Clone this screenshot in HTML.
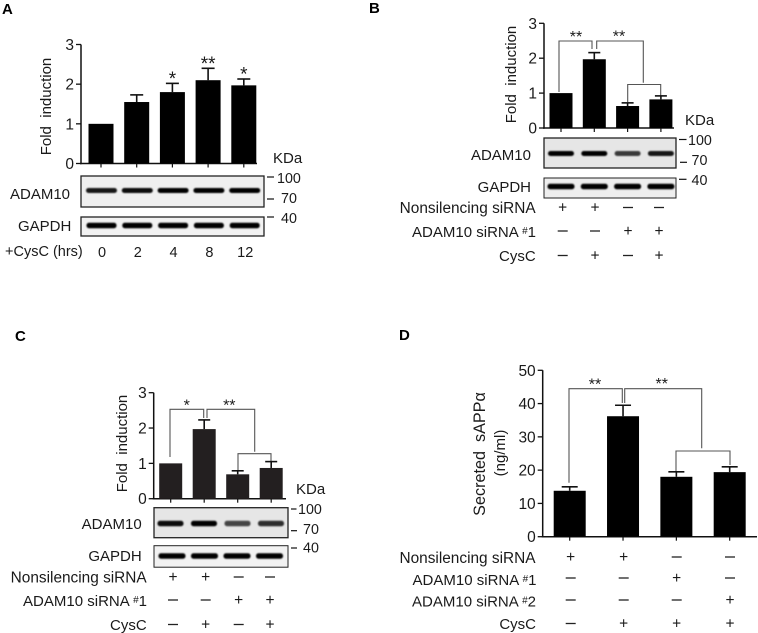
<!DOCTYPE html>
<html lang="en">
<head>
<meta charset="utf-8">
<title>ADAM10 and sAPP alpha induction by CysC</title>
<style>
html,body{margin:0;padding:0;background:#fff;}
body{width:758px;height:633px;overflow:hidden;}
svg{display:block;filter:blur(0.3px);}
text{font-family:"Liberation Sans",sans-serif;fill:#1a1a1a;white-space:pre;}
.panel-letter{font-weight:bold;font-size:15px;fill:#000;}
.bk{fill:none;stroke:#555;stroke-width:1.1;}
</style>
</head>
<body>
<svg id="figure" xmlns="http://www.w3.org/2000/svg" width="758" height="633" viewBox="0 0 758 633">
  <defs>
    <filter id="blur-band" x="-20%" y="-100%" width="140%" height="300%"><feGaussianBlur stdDeviation="0.9"/></filter>
  </defs>
  <text class="panel-letter" x="2" y="14">A</text>
  <text class="panel-letter" x="369" y="13">B</text>
  <text class="panel-letter" x="15" y="341">C</text>
  <text class="panel-letter" x="399" y="340">D</text>

  <path class="bk" d="M559 92V41H592V49"/>
  <path class="bk" d="M596.7 49V41H643.3V82.7"/>
  <path class="bk" d="M627.7 102V84.5H660.7V96"/>
  <path class="bk" d="M170 457V409.3H203.7V418"/>
  <path class="bk" d="M207 418V409.3H254.7V451.7"/>
  <path class="bk" d="M238 470V453.7H271V461.7"/>
  <path class="bk" d="M569 482.7V388.7H622.3V403"/>
  <path class="bk" d="M624.7 403V388.7H701.7V448.3"/>
  <path class="bk" d="M676 471.7V451H730V465"/>
</svg>
<script>
// Chart data
var aValues = [1, 1.55, 1.8, 2.1, 1.97];
var aErrors = [0, 0.18, 0.22, 0.3, 0.16];
var aTicks = [0, 1, 2, 3];
var aTimes = ['0', '2', '4', '8', '12'];
var aStars = ['', '', '*', '**', '*'];
var aAdamBands = [0.9, 0.95, 1, 1, 1];
var aGapdhBands = [1, 1, 1, 1, 1];

var bValues = [1, 1.97, 0.63, 0.82];
var bErrors = [0, 0.19, 0.09, 0.1];
var bTicks = [0, 1, 2, 3];
var bAdamBands = [1, 1, 0.75, 0.9];
var bGapdhBands = [1, 1, 1, 1];

var cValues = [1, 1.97, 0.69, 0.87];
var cErrors = [0, 0.26, 0.1, 0.18];
var cTicks = [0, 1, 2, 3];
var cAdamBands = [0.95, 1, 0.7, 0.8];
var cGapdhBands = [1, 1, 1, 1];

var dValues = [13.8, 36.2, 18, 19.4];
var dErrors = [1.2, 3.3, 1.5, 1.6];
var dTicks = [0, 10, 20, 30, 40, 50];

var nonsilencingSigns = ['+', '+', '-', '-'];
var sirna1Signs = ['-', '-', '+', '+'];
var cysCSigns = ['-', '+', '-', '+'];
var dNonsilencingSigns = ['+', '+', '-', '-'];
var dSirna1Signs = ['-', '-', '+', '-'];
var dSirna2Signs = ['-', '-', '-', '+'];
var dCysCSigns = ['-', '+', '+', '+'];

var NS = 'http://www.w3.org/2000/svg';
var svg = document.getElementById('figure');

function make(tag, attrs, content) {
  var el = document.createElementNS(NS, tag);
  for (var k in attrs) el.setAttribute(k, attrs[k]);
  if (content !== undefined) el.textContent = content;
  svg.appendChild(el);
  return el;
}
function label(txt, x, y, size, anchor, name) {
  var el = make('text', {x: x, y: y, 'font-size': size, 'text-anchor': anchor || 'start'}, txt);
  
  
  return el;
}
function sirnaLabel(num, x, y, name) {
  var el = make('text', {x: x, y: y, 'font-size': 15, 'text-anchor': 'end'}, 'ADAM10 siRNA ');
  var hash = document.createElementNS(NS, 'tspan');
  hash.setAttribute('font-size', '10');
  hash.setAttribute('dy', '-3');
  hash.textContent = '#';
  el.appendChild(hash);
  var digit = document.createElementNS(NS, 'tspan');
  digit.setAttribute('dy', '3');
  digit.textContent = num;
  el.appendChild(digit);
  
  
  return el;
}
function vLabel(txt, cx, cy, size, name) {
  var el = make('text', {x: 0, y: 0, 'font-size': size, 'text-anchor': 'middle', transform: 'translate(' + cx + ' ' + cy + ') rotate(-90)'}, txt);
  
  
  return el;
}
function seg(x1, y1, x2, y2, w, name, color) {
  var el = make('line', {x1: x1, y1: y1, x2: x2, y2: y2, stroke: color || '#111', 'stroke-width': w});
  
  
  return el;
}

function drawChart(o) {
  var yMax = o.ticks[o.ticks.length - 1];
  function y(v) { return o.y0 - (v / yMax) * (o.y0 - o.yTop); }
  function x(i) { return o.x0 + o.laneStep * i; }
  seg(o.axisX, o.yTop, o.axisX, o.y0 + 0.7, 1.5, o.id + '-y-axis');
  seg(o.axisX - 1, o.y0, o.axisEnd, o.y0, 1.5, o.id + '-x-axis');
  o.ticks.forEach(function (t) {
    seg(o.axisX - 5, y(t), o.axisX, y(t), 1.3, o.id + '-y-tick');
    label(String(t), o.axisX - 7, y(t) + 5.5, 15.5, 'end', o.id + '-y-tick-label');
  });
  o.values.forEach(function (v, i) {
    seg(x(i), o.y0, x(i), o.y0 + 4, 1.2, o.id + '-x-tick');
    if (o.errors[i] > 0) {
      seg(x(i), y(v), x(i), y(v + o.errors[i]), 1.6, o.id + '-error-stem');
      seg(x(i) - o.cap, y(v + o.errors[i]), x(i) + o.cap, y(v + o.errors[i]), 1.6, o.id + '-error-cap');
    }
    var bar = make('rect', {x: x(i) - o.barW / 2, y: y(v), width: o.barW, height: o.y0 - y(v), fill: o.barColor});
    
    
    if (o.stars && o.stars[i]) {
      label(o.stars[i], x(i), y(v + o.errors[i]) + 1.5, 19, 'middle', o.id + '-significance');
    }
  });
}

function drawBlot(o) {
  var box = make('rect', {x: o.x, y: o.y, width: o.w, height: o.h, fill: o.bg, stroke: '#222', 'stroke-width': o.sw || 1.3});
  
  
  o.bands.forEach(function (b, i) {
    var r = make('rect', {
      x: o.lane0 + o.step * i - o.bandW / 2, y: o.bandY - o.bandH / 2,
      width: o.bandW, height: o.bandH, rx: 2.5, fill: '#000', opacity: b, filter: 'url(#blur-band)'
    });
    
    
  });
}

function drawSigns(signs, rowY, lanes, name) {
  signs.forEach(function (s, i) {
    if (s === '+') {
      label('+', lanes[i], rowY + 5, 15.5, 'middle', name + '-plus');
    } else {
      seg(lanes[i] - 5, rowY, lanes[i] + 5, rowY, 1.3, name + '-minus', '#222');
    }
  });
}

/* Panel A */
drawChart({id: 'panel-a', values: aValues, errors: aErrors, ticks: aTicks, stars: aStars,
  axisX: 81, axisEnd: 257, y0: 163.5, yTop: 44.5, x0: 101, laneStep: 35.7, barW: 25, cap: 6.5, barColor: '#000'});
vLabel('Fold  induction', 51, 106.5, 15, 'panel-a-y-axis-title');
label('KDa', 273, 163, 15, 'start', 'panel-a-kda-label');
drawBlot({name: 'panel-a-adam10', x: 81, y: 176, w: 183, h: 31, bg: '#efefef', bands: aAdamBands,
  lane0: 101.5, step: 35.8, bandW: 31, bandH: 5, bandY: 190.5});
drawBlot({name: 'panel-a-gapdh', x: 81, y: 217, w: 183, h: 19, bg: '#f2f2f2', bands: aGapdhBands,
  lane0: 101.5, step: 35.8, bandW: 30, bandH: 5.5, bandY: 225.5});
label('ADAM10', 10, 199, 15, 'start', 'panel-a-adam10-label');
label('GAPDH', 18, 231, 15, 'start', 'panel-a-gapdh-label');
seg(267, 177, 274, 177, 1.2, 'panel-a-marker-100-dash');
label('100', 277, 183, 14.3, 'start', 'panel-a-marker-100');
seg(267, 199, 274, 199, 1.2, 'panel-a-marker-70-dash');
label('70', 281, 203, 14.3, 'start', 'panel-a-marker-70');
seg(267, 217, 274, 217, 1.2, 'panel-a-marker-40-dash');
label('40', 281, 223, 14.3, 'start', 'panel-a-marker-40');
label('+CysC (hrs)', 5, 256, 14.5, 'start', 'panel-a-cysc-label');
aTimes.forEach(function (t, i) {
  label(t, 102 + 35.8 * i, 257, 14.5, 'middle', 'panel-a-time-label');
});

/* Panel B */
drawChart({id: 'panel-b', values: bValues, errors: bErrors, ticks: bTicks,
  axisX: 544, axisEnd: 674, y0: 128, yTop: 23.3, x0: 561, laneStep: 33.3, barW: 23, cap: 6, barColor: '#000'});
vLabel('Fold  induction', 516, 74.5, 15, 'panel-b-y-axis-title');
label('KDa', 685, 125, 15, 'start', 'panel-b-kda-label');
label('**', 576, 42, 16, 'middle', 'panel-b-significance-left');
label('**', 619, 41.5, 16, 'middle', 'panel-b-significance-right');
drawBlot({name: 'panel-b-adam10', x: 544, y: 138, w: 132, h: 30, bg: '#e6e6e6', bands: bAdamBands,
  lane0: 561, step: 33.3, bandW: 26, bandH: 5, bandY: 153.5});
drawBlot({name: 'panel-b-gapdh', x: 544, y: 178, w: 132, h: 20, bg: '#eeeeee', sw: 1, bands: bGapdhBands,
  lane0: 561, step: 33.3, bandW: 27, bandH: 5.5, bandY: 186.5});
label('ADAM10', 531, 160, 15, 'end', 'panel-b-adam10-label');
label('GAPDH', 531, 192, 15, 'end', 'panel-b-gapdh-label');
seg(679, 139.5, 686.5, 139.5, 1.2, 'panel-b-marker-100-dash');
label('100', 688, 145, 14.3, 'start', 'panel-b-marker-100');
seg(680, 162.3, 687, 162.3, 1.2, 'panel-b-marker-70-dash');
label('70', 691.5, 165, 14.3, 'start', 'panel-b-marker-70');
seg(679, 179.3, 686.5, 179.3, 1.2, 'panel-b-marker-40-dash');
label('40', 691.5, 185, 14.3, 'start', 'panel-b-marker-40');
var bLanes = [562.7, 595, 628, 659];
label('Nonsilencing siRNA', 535.7, 213, 15.4, 'end', 'panel-b-nonsilencing-label');
drawSigns(nonsilencingSigns, 207.5, bLanes, 'panel-b-nonsilencing');
sirnaLabel('1', 536, 237, 'panel-b-sirna1-label');
drawSigns(sirna1Signs, 231, bLanes, 'panel-b-sirna1');
label('CysC', 535.7, 261, 15, 'end', 'panel-b-cysc-label');
drawSigns(cysCSigns, 255.5, bLanes, 'panel-b-cysc');

/* Panel C */
drawChart({id: 'panel-c', values: cValues, errors: cErrors, ticks: cTicks,
  axisX: 153.7, axisEnd: 286, y0: 498.7, yTop: 392.7, x0: 170.7, laneStep: 33.5, barW: 23, cap: 6, barColor: '#231f20'});
vLabel('Fold  induction', 127, 443.5, 15, 'panel-c-y-axis-title');
label('KDa', 296, 494, 15, 'start', 'panel-c-kda-label');
label('*', 186.7, 410.5, 16, 'middle', 'panel-c-significance-left');
label('**', 229.3, 410.5, 16, 'middle', 'panel-c-significance-right');
drawBlot({name: 'panel-c-adam10', x: 154, y: 507.7, w: 134, h: 30, bg: '#e6e6e6', bands: cAdamBands,
  lane0: 170.5, step: 33.5, bandW: 26, bandH: 5.5, bandY: 523.5});
drawBlot({name: 'panel-c-gapdh', x: 154, y: 545.7, w: 134, h: 21.5, bg: '#f2f2f2', sw: 1, bands: cGapdhBands,
  lane0: 172, step: 32.5, bandW: 27, bandH: 5.5, bandY: 556});
label('ADAM10', 141.7, 529, 15, 'end', 'panel-c-adam10-label');
label('GAPDH', 141.7, 561, 15, 'end', 'panel-c-gapdh-label');
seg(291, 509, 296.5, 509, 1.2, 'panel-c-marker-100-dash');
label('100', 298, 514, 14.3, 'start', 'panel-c-marker-100');
seg(291, 530.7, 297, 530.7, 1.2, 'panel-c-marker-70-dash');
label('70', 303, 534, 14.3, 'start', 'panel-c-marker-70');
seg(291, 548, 297, 548, 1.2, 'panel-c-marker-40-dash');
label('40', 303, 552.5, 14.3, 'start', 'panel-c-marker-40');
var cLanes = [173, 205.7, 238.7, 270];
label('Nonsilencing siRNA', 146.7, 582.5, 15.4, 'end', 'panel-c-nonsilencing-label');
drawSigns(nonsilencingSigns, 577, cLanes, 'panel-c-nonsilencing');
sirnaLabel('1', 147, 606, 'panel-c-sirna1-label');
drawSigns(sirna1Signs, 600, cLanes, 'panel-c-sirna1');
label('CysC', 146.7, 630, 15, 'end', 'panel-c-cysc-label');
drawSigns(cysCSigns, 624.5, cLanes, 'panel-c-cysc');

/* Panel D */
drawChart({id: 'panel-d', values: dValues, errors: dErrors, ticks: dTicks,
  axisX: 542.7, axisEnd: 757, y0: 536.7, yTop: 370.3, x0: 569.7, laneStep: 53.33, barW: 32, cap: 8, barColor: '#000'});
vLabel('Secreted  sAPP\u03B1', 485, 454, 16.2, 'panel-d-y-axis-title');
vLabel('(ng/ml)', 505, 453, 15, 'panel-d-y-axis-unit');
label('**', 595, 389.5, 16, 'middle', 'panel-d-significance-left');
label('**', 661.7, 389, 16, 'middle', 'panel-d-significance-right');
var dLanes = [570.7, 623.7, 676.7, 730];
label('Nonsilencing siRNA', 535.5, 563, 15.4, 'end', 'panel-d-nonsilencing-label');
drawSigns(dNonsilencingSigns, 557, dLanes, 'panel-d-nonsilencing');
sirnaLabel('1', 536.5, 585, 'panel-d-sirna1-label');
drawSigns(dSirna1Signs, 578, dLanes, 'panel-d-sirna1');
sirnaLabel('2', 536, 606.5, 'panel-d-sirna2-label');
drawSigns(dSirna2Signs, 600, dLanes, 'panel-d-sirna2');
label('CysC', 536, 629, 15, 'end', 'panel-d-cysc-label');
drawSigns(dCysCSigns, 623.5, dLanes, 'panel-d-cysc');
</script>
</body>
</html>
